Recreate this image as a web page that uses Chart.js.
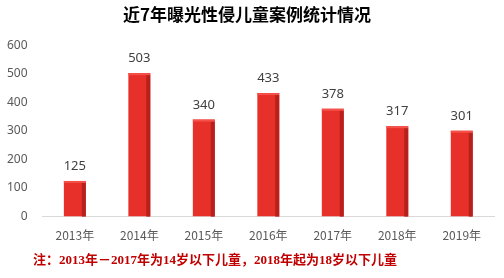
<!DOCTYPE html>
<html>
<head>
<meta charset="utf-8">
<script src="https://cdn.jsdelivr.net/npm/chart.js@4/dist/chart.umd.min.js"></script>
<style>
  html, body { margin: 0; padding: 0; background: #fff; }
  #wrap { width: 504px; height: 278px; }
</style>
</head>
<body>
<div id="wrap"><canvas id="c" width="504" height="278"></canvas></div>
<script>
const years = ['2013年', '2014年', '2015年', '2016年', '2017年', '2018年', '2019年']
const cases = [125, 503, 340, 433, 378, 317, 301]
const yTicks = [0, 100, 200, 300, 400, 500, 600]

const titleText = '近7年曝光性侵儿童案例统计情况'
const noteText = '注：2013年－2017年为14岁以下儿童，2018年起为18岁以下儿童'

// value labels + darker side face on each bar
const barExtras = {
  id: 'barExtras',
  afterDatasetsDraw(chart) {
    const ctx = chart.ctx
    const meta = chart.getDatasetMeta(0)
    ctx.save()
    meta.data.forEach((bar, i) => {
      const half = bar.width / 2
      ctx.fillStyle = '#b8201b'
      ctx.fillRect(bar.x + half - 4, bar.y + 2, 4, bar.base - bar.y - 2)
      ctx.fillStyle = '#f4514a'
      ctx.fillRect(bar.x - half, bar.y, bar.width, 2)
      ctx.fillStyle = '#404040'
      ctx.font = '13px "Noto Sans", sans-serif'
      ctx.textAlign = 'center'
      ctx.textBaseline = 'bottom'
      ctx.fillText(cases[i], bar.x, bar.y - 8)
    })
    ctx.restore()
  }
}

const notePlugin = {
  id: 'notePlugin',
  afterDraw(chart) {
    const ctx = chart.ctx
    ctx.save()
    ctx.fillStyle = '#c00000'
    ctx.font = 'bold 13px "Liberation Serif", "Noto Sans CJK SC", serif'
    ctx.textAlign = 'left'
    ctx.textBaseline = 'middle'
    ctx.fillText(noteText, 33, 261)
    ctx.restore()
  }
}

new Chart(document.getElementById('c'), {
  type: 'bar',
  data: {
    labels: years,
    datasets: [{
      data: cases,
      backgroundColor: '#e8302a',
      barPercentage: 0.34,
      categoryPercentage: 1
    }]
  },
  options: {
    responsive: false,
    animation: false,
    layout: { padding: { left: 0, right: 10, top: 0, bottom: 31 } },
    plugins: {
      legend: { display: false },
      tooltip: { enabled: false },
      title: {
        display: true,
        text: titleText,
        color: '#000',
        font: { family: '"Noto Sans CJK SC", sans-serif', size: 17, weight: 'bold' },
        padding: { top: 4, bottom: 21 }
      }
    },
    scales: {
      x: {
        grid: { display: false },
        border: { display: true, color: '#d9d9d9' },
        ticks: { color: '#595959', font: { family: '"Noto Sans CJK SC", sans-serif', size: 12 }, padding: 4 }
      },
      y: {
        min: 0,
        max: 600,
        afterBuildTicks: axis => { axis.ticks = yTicks.map(v => ({ value: v })) },
        grid: { display: false },
        border: { display: false },
        ticks: { color: '#595959', font: { family: '"Noto Sans", sans-serif', size: 12 }, padding: 7 }
      }
    }
  },
  plugins: [barExtras, notePlugin]
})
</script>
</body>
</html>
